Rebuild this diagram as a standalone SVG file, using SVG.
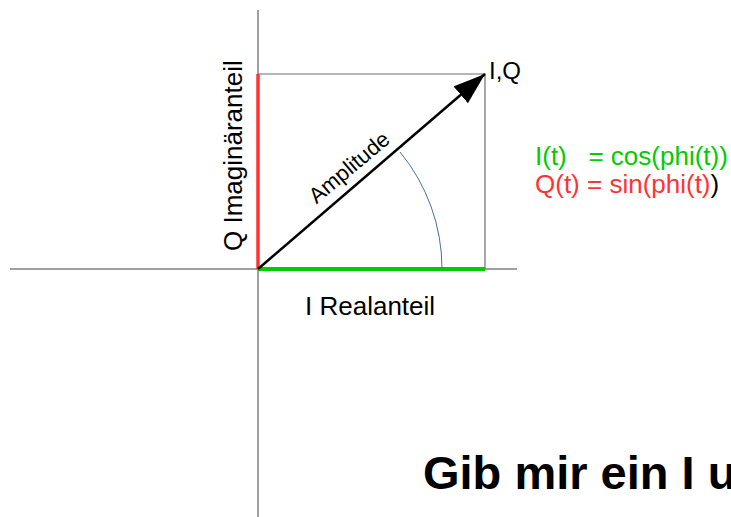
<svg xmlns="http://www.w3.org/2000/svg" width="731" height="517" viewBox="0 0 731 517">
<style>
.t{font-family:"Liberation Sans",Arial,sans-serif;font-size:26px;fill:#000}
.axis{stroke:#808080;stroke-width:1.5;fill:none}
.box{stroke:#6e6e6e;stroke-width:1.2;fill:none}
</style>
<defs>
<marker id="ah" markerUnits="userSpaceOnUse" markerWidth="34" markerHeight="24" refX="32" refY="11" orient="auto">
<path d="M0,0 L32,11 L0,22 Z" fill="#000"/>
</marker>
</defs>
<rect width="731" height="517" fill="#fff"/>
<g id="connectors">
<line class="axis" x1="258" y1="10" x2="258" y2="517"/>
<line class="axis" x1="10" y1="269" x2="517" y2="269"/>
<polyline class="box" points="258,74 485,74 485,269"/>
<line x1="258" y1="74" x2="258" y2="269" stroke="#ff3333" stroke-width="3.5"/>
<line x1="258" y1="269" x2="485" y2="269" stroke="#00cc00" stroke-width="4"/>
<path d="M442,269 A184,184 0 0 0 400,152" fill="none" stroke="#4a6fa5" stroke-width="1"/>
<line x1="258" y1="269" x2="485" y2="74" stroke="#000" stroke-width="2.5" marker-end="url(#ah)"/>
</g>
<g id="label-amplitude"><text class="t" text-anchor="middle" style="font-size:22px" transform="translate(354,173) rotate(-40)">Amplitude</text></g>
<g id="label-q"><text class="t" transform="translate(242,251) rotate(-90)">Q Imaginäranteil</text></g>
<g id="label-i"><text class="t" x="305" y="315">I Realanteil</text></g>
<g id="label-iq"><text class="t" x="489" y="79" style="font-size:24px">I,Q</text></g>
<g id="formulas">
<text class="t" x="535" y="165" xml:space="preserve" style="fill:#00cc00;white-space:pre">I(t)   = cos(phi(t))</text>
<text class="t" x="535" y="193" style="fill:#ff3333">Q(t) = sin(phi(t)<tspan style="fill:#000">)</tspan></text>
</g>
<g id="title"><text class="t" x="423" y="489" style="font-size:47px;font-weight:bold">Gib mir ein I u</text></g>
</svg>
